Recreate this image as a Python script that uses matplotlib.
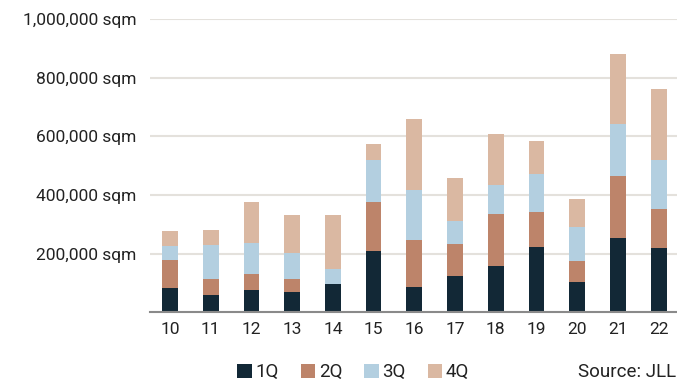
import numpy as np
import matplotlib
matplotlib.use('Agg')
import matplotlib.pyplot as plt
from matplotlib.ticker import FuncFormatter

plt.rcParams['font.family'] = ['Roboto', 'DejaVu Sans']

years = ['10', '11', '12', '13', '14', '15', '16', '17', '18', '19', '20', '21', '22']
# quarterly take-up, sqm
q1 = [83000, 59000, 76000, 69000, 96500, 209000, 86000, 124000, 158000, 223000, 103000, 253500, 219500]
q2 = [95500, 54500, 54500, 44500, 0, 167500, 160500, 109000, 177500, 119500, 71500, 211500, 133000]
q3 = [47500, 115000, 106000, 88500, 50000, 143500, 170500, 78500, 99000, 129500, 115000, 177500, 167000]
q4 = [51500, 52500, 140000, 130000, 185000, 54500, 242500, 147000, 174000, 112500, 96500, 239000, 242000]

quarters = ['1Q', '2Q', '3Q', '4Q']
colors = ['#122836', '#bd846a', '#b3cfe0', '#dab8a2']

fig = plt.figure(figsize=(6.77, 3.8), dpi=100)
ax = fig.add_axes([0.2216, 0.178, 0.7784, 0.772])

x = np.arange(len(years))
bottom = np.zeros(len(years))
handles = []
for vals, lab, c in zip([q1, q2, q3, q4], quarters, colors):
    b = ax.bar(x, vals, 0.385, bottom=bottom, color=c, label=lab, zorder=3)
    handles.append(b)
    bottom += np.array(vals)

ax.set_ylim(0, 1000000)
ax.set_xlim(-0.49, 12.45)
ax.set_yticks(np.arange(0, 1000001, 200000))
ax.yaxis.set_major_formatter(FuncFormatter(lambda v, p: '' if v == 0 else f'{int(v):,} sqm'))
ax.set_xticks(x)
ax.set_xticklabels(years)

ax.grid(axis='y', color='#e4e1dc', linewidth=1.5, zorder=0)
for s in ['top', 'right', 'left']:
    ax.spines[s].set_visible(False)
ax.spines['bottom'].set_color('#8a8a8a')
ax.spines['bottom'].set_linewidth(1.5)
ax.spines['bottom'].set_zorder(4)
ax.tick_params(axis='both', length=0, labelsize=12.5, colors='#222222')
ax.tick_params(axis='y', pad=10)
ax.tick_params(axis='x', pad=7)

fig.legend(handles=handles, labels=quarters, loc='center', bbox_to_anchor=(0.522, 0.02),
           ncol=4, frameon=False, fontsize=13.5, handlelength=0.78, handleheight=0.78,
           handletextpad=0.2, columnspacing=1.15, labelcolor='#222222')
fig.text(0.999, 0.02, 'Source: JLL', ha='right', va='center', fontsize=13.5, color='#222222')

fig.savefig('out.png', dpi=100)
